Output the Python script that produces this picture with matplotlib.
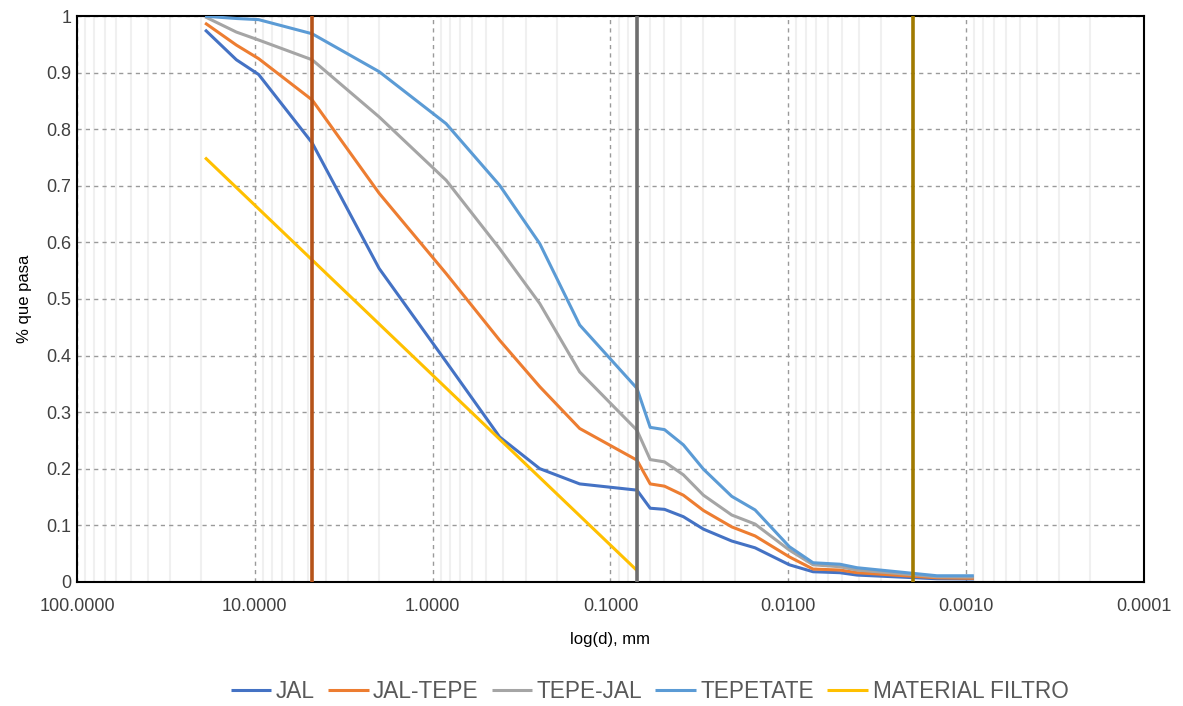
import matplotlib
matplotlib.use("Agg")
import matplotlib.pyplot as plt
from matplotlib.ticker import LogLocator, NullFormatter

plt.rcParams['font.family'] = ['Liberation Sans', 'DejaVu Sans']

# ---- data ----
sieve_d = [19.05, 12.7, 9.52, 4.76, 2.0, 0.84, 0.42, 0.25, 0.149, 0.071]
hydro_d = [0.0598, 0.0497, 0.0389, 0.0300, 0.0208, 0.01538, 0.00987,
           0.00726, 0.00513, 0.00411, 0.00146, 0.000905]

jal_sieve = [0.976, 0.923, 0.897, 0.776, 0.554, 0.389, 0.256, 0.200, 0.173, 0.162]
jal_hydro = [0.130, 0.128, 0.115, 0.093, 0.072, 0.060, 0.030, 0.0177, 0.016, 0.0118, 0.0053, 0.0048]

jaltepe_sieve = [0.988, 0.949, 0.925, 0.852, 0.687, 0.545, 0.427, 0.345, 0.271, 0.215]
jaltepe_hydro = [0.173, 0.169, 0.153, 0.126, 0.097, 0.081, 0.044, 0.0224, 0.0207, 0.016, 0.007, 0.006]

tepejal_sieve = [0.999, 0.972, 0.958, 0.923, 0.822, 0.710, 0.589, 0.492, 0.371, 0.268]
tepejal_hydro = [0.216, 0.212, 0.189, 0.153, 0.118, 0.102, 0.056, 0.030, 0.0265, 0.0207, 0.0088, 0.0083]

tepetate_sieve = [1.0, 0.996, 0.994, 0.969, 0.902, 0.810, 0.701, 0.598, 0.454, 0.342]
tepetate_hydro = [0.273, 0.269, 0.242, 0.199, 0.151, 0.127, 0.062, 0.0336, 0.031, 0.0248, 0.0106, 0.0106]

filtro_d = [19.05, 0.071]
filtro_p = [0.75, 0.02]

limits_d = [4.76, 0.071, 0.002]
limit_colors = ['#B5531A', '#6E6E6E', '#A07A00']

series_names = ['JAL', 'JAL-TEPE', 'TEPE-JAL', 'TEPETATE', 'MATERIAL FILTRO']
series_colors = ['#4472C4', '#ED7D31', '#A5A5A5', '#5B9BD5', '#FFC000']

x_ticks = [100, 10, 1, 0.1, 0.01, 0.001, 0.0001]
x_ticklabels = ['100.0000', '10.0000', '1.0000', '0.1000', '0.0100', '0.0010', '0.0001']
y_ticks = [0, 0.1, 0.2, 0.3, 0.4, 0.5, 0.6, 0.7, 0.8, 0.9, 1.0]
y_ticklabels = ['0', '0.1', '0.2', '0.3', '0.4', '0.5', '0.6', '0.7', '0.8', '0.9', '1']

# ---- figure ----
fig = plt.figure(figsize=(11.83, 7.06), dpi=100)
ax = fig.add_axes([0.0651, 0.176, 0.9019, 0.801])

ax.set_xscale('log')
ax.set_xlim(100, 0.0001)
ax.set_ylim(0, 1)

# grid
ax.xaxis.set_minor_locator(LogLocator(base=10, subs=range(2, 10), numticks=20))
ax.xaxis.set_minor_formatter(NullFormatter())
ax.grid(which='minor', axis='x', color='#F0F0F0', lw=1.5, ls='-', zorder=0)
ax.grid(which='major', axis='x', color='#9A9A9A', lw=1.0, ls=(0, (3, 3)), zorder=0.5)
ax.grid(which='major', axis='y', color='#9A9A9A', lw=1.0, ls=(0, (3, 3)), zorder=0.5)

ax.set_xticks(x_ticks)
ax.set_xticklabels(x_ticklabels)
ax.set_yticks(y_ticks)
ax.set_yticklabels(y_ticklabels)
ax.tick_params(axis='both', which='both', length=0, labelsize=13, colors='#404040')
ax.tick_params(axis='x', pad=12)
ax.tick_params(axis='y', pad=4)

lw = 2.2
data = [
    (sieve_d + hydro_d, jal_sieve + jal_hydro),
    (sieve_d + hydro_d, jaltepe_sieve + jaltepe_hydro),
    (sieve_d + hydro_d, tepejal_sieve + tepejal_hydro),
    (sieve_d + hydro_d, tepetate_sieve + tepetate_hydro),
    (filtro_d, filtro_p),
]
handles = []
for (xd, yd), name, c in zip(data, series_names, series_colors):
    h, = ax.plot(xd, yd, color=c, lw=lw, label=name, zorder=3, solid_capstyle='butt')
    handles.append(h)

for d, c in zip(limits_d, limit_colors):
    ax.plot([d, d], [0, 1], color=c, lw=2.6, zorder=4, solid_capstyle='butt')

for sp in ax.spines.values():
    sp.set_color('black')
    sp.set_linewidth(1.5)

ax.set_xlabel('log(d), mm', fontsize=12, color='black', labelpad=12)
ax.set_ylabel('% que pasa', fontsize=12, color='black', labelpad=10)

fig.legend(handles=handles, labels=series_names, loc='center', bbox_to_anchor=(0.549, 0.021),
           ncol=5, frameon=False, fontsize=16.3, handlelength=1.8, handletextpad=0.2,
           columnspacing=0.57, labelcolor='#595959')

fig.savefig('out.png', dpi=100)
